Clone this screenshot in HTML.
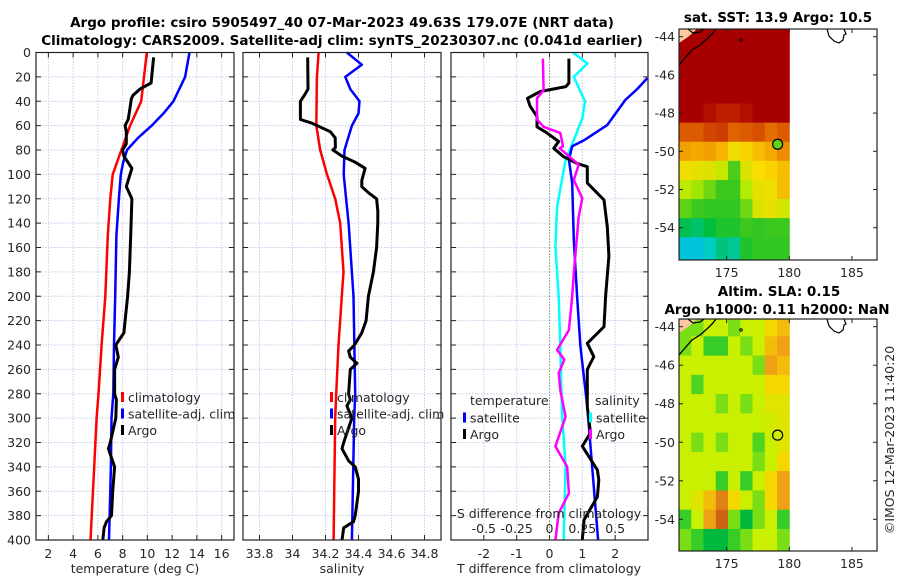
<!DOCTYPE html>
<html><head><meta charset="utf-8">
<style>
html,body{margin:0;padding:0;background:#fff;}
svg{display:block;font-family:"DejaVu Sans","Liberation Sans",sans-serif;}
.tk{font-size:12.5px;fill:#262626;}
.ttl{font-size:13.5px;font-weight:bold;fill:#000;}
</style></head>
<body>
<svg id="fig" width="900" height="580" viewBox="0 0 900 580" xmlns="http://www.w3.org/2000/svg">
<text class="ttl" x="342" y="27" text-anchor="middle">Argo profile: csiro 5905497_40 07-Mar-2023 49.63S 179.07E (NRT data)</text>
<text class="ttl" x="342" y="45" text-anchor="middle">Climatology: CARS2009. Satellite-adj clim: synTS_20230307.nc (0.041d earlier)</text>
<text class="ttl" x="778" y="22" text-anchor="middle">sat. SST: 13.9 Argo: 10.5</text>
<text class="ttl" x="779" y="296" text-anchor="middle">Altim. SLA: 0.15</text>
<text class="ttl" x="777" y="314" text-anchor="middle">Argo h1000: 0.11 h2000: NaN</text>
<text class="tk" transform="translate(894,440) rotate(-90)" text-anchor="middle">©IMOS 12-Mar-2023 11:40:20</text>
<g id="g"></g>
</svg>
<script>
// ---------- profile data ----------
const depthTclim=[0,40,60,80,100,120,150,200,240,280,300,340,400];
const tempClim=[9.95,9.5,8.6,7.9,7.2,7.0,6.8,6.6,6.3,6.05,5.9,5.7,5.4];
const depthTsat=[0,20,40,50,60,70,80,90,100,120,150,200,240,280,300,340,400];
const tempSat=[13.4,13.05,12.1,11.3,10.35,9.25,8.35,8.05,7.85,7.7,7.5,7.4,7.3,7.25,7.1,7.05,6.9];
const depthTargo=[4,25,30,35,38,45,55,60,65,75,80,85,95,110,120,150,180,200,220,230,240,250,260,280,285,300,320,325,340,360,380,385,390,400];
const tempArgo=[10.5,10.3,9.4,8.85,8.7,8.6,8.45,8.2,8.3,8.3,8.0,8.1,8.75,8.3,8.75,8.65,8.55,8.4,8.2,8.1,7.45,7.65,7.35,7.35,7.5,7.45,7.0,6.85,7.35,7.2,7.1,6.7,6.5,6.4];
const depthSclim=[0,20,60,80,100,120,140,180,200,240,280,300,400];
const salClim=[34.158,34.148,34.144,34.168,34.209,34.259,34.289,34.309,34.299,34.279,34.265,34.259,34.249];
const depthSsat=[0,10,20,30,40,50,60,80,100,120,140,200,280,300,400];
const salSat=[34.33,34.42,34.32,34.35,34.406,34.4,34.36,34.315,34.31,34.325,34.34,34.37,34.38,34.374,34.36];
const depthSargo=[4,30,35,40,55,58,65,70,78,80,85,90,95,105,110,115,120,130,140,160,180,200,220,230,240,245,250,255,260,280,285,290,300,320,325,335,340,350,360,380,385,390,400];
const salArgo=[34.092,34.094,34.072,34.048,34.048,34.118,34.229,34.259,34.26,34.245,34.3,34.38,34.44,34.42,34.42,34.46,34.51,34.517,34.517,34.51,34.49,34.46,34.446,34.42,34.376,34.34,34.35,34.39,34.35,34.34,34.35,34.33,34.36,34.31,34.3,34.34,34.38,34.4,34.4,34.38,34.37,34.31,34.3];
// differences (T in deg C, S in psu)
const depthDTsat=[21,30,39,59.5,72,77,88,107,154,200,241,290.6,400];
const dTsat=[2.98,2.67,2.31,1.76,1.05,0.69,0.59,0.69,0.74,0.84,0.94,1.15,1.48];
const depthDTargo=[5,25,28,32,37.6,44,52.6,61,66,73,78.6,85.5,91,93.7,107,121,143,167,200,225,238.6,249.6,260,290.6,312,323,342.6,350.7,364.5,383.6,400];
const dTargo=[0.59,0.59,0.5,-0.28,-0.67,-0.59,-0.38,-0.38,-0.08,0.28,0.13,0.43,0.84,1.15,1.15,1.66,1.76,1.81,1.71,1.66,1.15,1.35,1.15,1.15,1.25,1.0,1.46,1.5,1.46,1.05,1.0];
const depthDSsat=[0,9,20,40,54,72,88,126.5,159,200,241,296,340,400];
const dSsat=[0.18,0.2875,0.185,0.27,0.25,0.185,0.1225,0.0575,0.045,0.07,0.0825,0.095,0.1225,0.1075];
const depthDSargo=[5,31,37.6,55,61,66,77,78.6,92,104.6,119.6,134.7,181,200,227.7,244,252,263,277,299,323,340,361.6,378,400];
const dSargo=[-0.05,-0.045,-0.095,-0.095,-0.045,0.0825,0.1025,0.0775,0.2225,0.185,0.25,0.2225,0.185,0.1725,0.1475,0.0575,0.1125,0.07,0.0825,0.1225,0.045,0.135,0.1475,0.07,0.045];
const depthTicks=[0,20,40,60,80,100,120,140,160,180,200,220,240,260,280,300,320,340,360,380,400];
const tempTicks=[2,4,6,8,10,12,14,16];
const salTicks=[33.8,34,34.2,34.4,34.6,34.8];
const salTickLabels=["33.8","34","34.2","34.4","34.6","34.8"];
const dTTicks=[-2,-1,0,1,2];
const dSTickLabels=["-0.5","-0.25","0","0.25","0.5"];
const dSTicks=[-0.5,-0.25,0,0.25,0.5];
// ---------- map data ----------
const mapLats=[-44,-45,-46,-47,-48,-49,-50,-51,-52,-53,-54,-55];
const mapLatTicks=[-44,-46,-48,-50,-52,-54];
const mapLonTicks=[175,180,185];
const sst=[
[14,14,14,14,14,14,14,14,14],
[14,14,14,14,14,14,14,14,14],
[14,14,14,14,14,14,14,14,14],
[14,14,14,14,14,14,14,14,14],
[14,14,13.8,13.6,13.6,13.8,14,14,14],
[13,13,13.2,13.3,12.9,13,13.1,12.8,13],
[12.3,12.2,12.3,12.1,11.6,11.8,12,12.2,12.5],
[11.6,11.5,11.4,11.2,10.4,11.4,11.7,11.8,12],
[11.1,10.9,10.6,10.3,10.3,11,11.5,11.6,12],
[10.5,10.3,10.2,10.2,10.2,10.6,11.4,11.5,11.3],
[9.6,9.5,9.7,10,10,10.3,10.2,10.3,10.3],
[8.9,8.9,9.1,9.4,9.3,10,10.2,10.2,10.2]];
const sla=[
[0.05,0.05,0.1,0.1,0.05,0.1,0.1,0.2,0.25],
[0.05,0.1,0.0,0.0,0.1,0.05,0.1,0.25,0.3],
[0.1,0.1,0.1,0.1,0.1,0.1,0.05,0.3,0.25],
[0.1,0.02,0.1,0.1,0.1,0.1,0.1,0.2,0.2],
[0.1,0.1,0.1,0.05,0.1,0.05,0.1,0.15,0.15],
[0.1,0.1,0.1,0.1,0.1,0.1,0.1,0.12,0.15],
[0.1,0.05,0.1,0.05,0.1,0.1,0.02,0.1,0.15],
[0.1,0.1,0.1,0.1,0.1,0.1,0.05,0.1,0.2],
[0.1,0.1,0.1,0.0,0.1,0.0,0.1,0.2,0.3],
[0.1,0.15,0.25,0.35,0.2,0.1,0.05,0.2,0.3],
[0.0,0.1,0.3,0.4,0.05,-0.05,0.05,0.1,0.0],
[0.05,0,-0.05,-0.05,0.0,0.05,0.1,0.1,0.05]];
const argoLon=179.07, argoLat=-49.63;

const NS="http://www.w3.org/2000/svg";
const G=document.getElementById('g');
function mk(tag,attrs,parent){const e=document.createElementNS(NS,tag);for(const k in attrs)e.setAttribute(k,attrs[k]);(parent||G).appendChild(e);return e;}

const Y0=52.5,Y1=540;
function yD(d){return Y0+d/400*(Y1-Y0);}
function lin(d0,d1,r0,r1){return v=>r0+(v-d0)/(d1-d0)*(r1-r0);}
const P1={x0:36,x1:234},P2={x0:243,x1:441},P3={x0:451,x1:648};
const xT=lin(1,17,P1.x0,P1.x1), xS=lin(33.7,34.9,P2.x0,P2.x1), xDT=lin(-3,3,P3.x0,P3.x1);
const xDS=v=>xDT(v*4);

function panel(P,name,vTicks,xf){
  const g=mk('g',{});
  
  
  mk('rect',{x:P.x0,y:Y0,width:P.x1-P.x0,height:Y1-Y0,fill:'#fff'},g);
  depthTicks.forEach(d=>{const l=mk('line',{x1:P.x0,x2:P.x1,y1:yD(d),y2:yD(d),stroke:'#c5cbe6','stroke-width':1,'stroke-dasharray':'1.5,1.5'},g);
    
    mk('line',{x1:P.x0,x2:P.x0+5,y1:yD(d),y2:yD(d),stroke:'#222'},g);mk('line',{x1:P.x1-5,x2:P.x1,y1:yD(d),y2:yD(d),stroke:'#222'},g);});
  vTicks.forEach(v=>{const x=xf(v);const l=mk('line',{x1:x,x2:x,y1:Y0,y2:Y1,stroke:'#c5cbe6','stroke-width':1,'stroke-dasharray':'1.5,1.5'},g);
    
    mk('line',{x1:x,x2:x,y1:Y1,y2:Y1-5,stroke:'#222'},g);mk('line',{x1:x,x2:x,y1:Y0,y2:Y0+5,stroke:'#222'},g);});
  return g;
}
function series(ds,vs,xf,color,w,name,par){
  const p=mk('polyline',{points:ds.map((d,i)=>xf(vs[i]).toFixed(1)+','+yD(d).toFixed(1)).join(' '),fill:'none',stroke:color,'stroke-width':w,'stroke-linejoin':'round'},par);
  
  
}
function frame(P,par){mk('rect',{x:P.x0,y:Y0,width:P.x1-P.x0,height:Y1-Y0,fill:'none',stroke:'#222','stroke-width':1.2},par);}
function text(x,y,s,name,anchor,par,extra){const t=mk('text',Object.assign({x:x,y:y,'class':'tk','text-anchor':anchor||'start'},extra||{}),par);t.textContent=s;
  return t;}
function legend(x,y,items,par){items.forEach((it,i)=>{mk('rect',{x:x,y:y+i*16.5-9,width:3,height:10,fill:it[1]},par);
  text(x+7,y+i*16.5+1,it[0],'legend-entry','start',par);});}

// Panel 1
const g1=panel(P1,'temperature-panel',tempTicks,xT);
series(depthTclim,tempClim,xT,'#ff0000',2.5,'temp-climatology-line',g1);
series(depthTsat,tempSat,xT,'#0000ff',2.5,'temp-satellite-line',g1);
series(depthTargo,tempArgo,xT,'#000',3,'temp-argo-line',g1);
frame(P1,g1);
depthTicks.forEach(d=>text(31,yD(d)+4.5,String(d),'y-tick-label','end',g1));
tempTicks.forEach(v=>text(xT(v),558,String(v),'x-tick-label','middle',g1));
text(135,573,'temperature (deg C)','x-axis-title','middle',g1);
legend(121,401,[['climatology','#ff0000'],['satellite-adj. clim','#0000ff'],['Argo','#000']],g1);

// Panel 2
const g2=panel(P2,'salinity-panel',salTicks,xS);
series(depthSclim,salClim,xS,'#ff0000',2.5,'sal-climatology-line',g2);
series(depthSsat,salSat,xS,'#0000ff',2.5,'sal-satellite-line',g2);
series(depthSargo,salArgo,xS,'#000',3,'sal-argo-line',g2);
frame(P2,g2);
salTicks.forEach((v,i)=>text(xS(v),558,salTickLabels[i],'x-tick-label','middle',g2));
text(342,573,'salinity','x-axis-title','middle',g2);
legend(330,401,[['climatology','#ff0000'],['satellite-adj. clim','#0000ff'],['Argo','#000']],g2);

// Panel 3
const g3=panel(P3,'difference-panel',dTTicks,xDT);
mk('line',{x1:xDT(0),x2:xDT(0),y1:Y0,y2:Y1,stroke:'#556b2f','stroke-width':1,'stroke-dasharray':'1,2'},g3);
series(depthDSsat,dSsat,xDS,'#00ffff',2.5,'sal-diff-satellite-line',g3);
series(depthDTsat,dTsat,xDT,'#0000ff',2.5,'temp-diff-satellite-line',g3);
series(depthDTargo,dTargo,xDT,'#000',3,'temp-diff-argo-line',g3);
series(depthDSargo,dSargo,xDS,'#ff00ff',2.5,'sal-diff-argo-line',g3);
frame(P3,g3);
dTTicks.forEach(v=>text(xDT(v),558,String(v),'x-tick-label','middle',g3));
text(549,573,'T difference from climatology','x-axis-title','middle',g3);
text(549,518,'S difference from climatology','s-axis-title','middle',g3);
dSTicks.forEach((v,i)=>text(xDS(v),533,dSTickLabels[i],'s-tick-label','middle',g3));
text(470,405,'temperature','legend-title','start',g3);
text(595,405,'salinity','legend-title','start',g3);
legend(463,421.5,[['satellite','#0000ff'],['Argo','#000']],g3);
legend(589,421.5,[['satellite','#00ffff'],['Argo','#ff00ff']],g3);

// ---------- maps ----------
function toRgb(c){return 'rgb('+c.map(v=>Math.round(v)).join(',')+')';}
function interp(stops,v){if(v<=stops[0][0])return toRgb(stops[0][1]);for(let i=1;i<stops.length;i++){if(v<=stops[i][0]){const t=(v-stops[i-1][0])/(stops[i][0]-stops[i-1][0]);const a=stops[i-1][1],b=stops[i][1];return toRgb(a.map((c,k)=>c+(b[k]-c)*t));}}return toRgb(stops[stops.length-1][1]);}
const sstStops=[[8.5,[0,150,230]],[9,[0,205,215]],[9.7,[0,190,60]],[10.3,[60,200,30]],[11,[180,235,0]],[11.7,[250,220,0]],[12.4,[240,150,0]],[13,[220,90,0]],[13.6,[190,30,0]],[14,[168,0,0]]];
const slaStops=[[-0.05,[0,185,60]],[0.03,[90,215,30]],[0.1,[200,240,0]],[0.2,[245,215,0]],[0.3,[240,160,20]],[0.4,[205,100,20]]];
function drawMap(M,name,grid,stops,markerVal){
  const g=mk('g',{});
  const xL=lin(171.2,187,M.x0,M.x1), yL=v=>M.yRef+(-44-v)*M.ppd;
  const cid='clip'+name;const cp=mk('clipPath',{id:cid},g);mk('rect',{x:M.x0,y:M.y0,width:M.x1-M.x0,height:M.y1-M.y0},cp);
  const cg=mk('g',{'clip-path':'url(#'+cid+')'},g);
  const nC=grid[0].length, cw=(180-171.2)/nC;
  grid.forEach((row,r)=>{row.forEach((v,c)=>{const lon0=171.2+c*cw;const top=yL(mapLats[r]+0.5);const bot=yL(mapLats[r]-(r===grid.length-1?0.8:0.5));
    const cell=mk('rect',{x:xL(lon0),y:top,width:xL(lon0+cw)-xL(lon0)+0.5,height:bot-top+0.5,fill:interp(stops,v)},cg);
    });});
  const o=M.y0;
  mk('path',{d:`M679,${o} L697,${o} L688,${o+8} L679,${o+14} Z`,fill:'#fdc9a0'},cg);
  const coast=mk('polyline',{points:`679,${o+36} 685,${o+29} 692,${o+21} 700,${o+16} 708,${o+9} 713,${o+4} 716,${o}`,fill:'none',stroke:'#000','stroke-width':1.3},cg);
  
  mk('path',{d:`M688,${o} L693,${o+4} L700,${o+3} L704,${o}`,fill:'none',stroke:'#000','stroke-width':1.2},cg);
  mk('circle',{cx:741,cy:o+11,r:1.3,fill:'none',stroke:'#000'},cg);
  mk('path',{d:`M827,${o} L829,${o+7} L834,${o+12} L839,${o+14} L843,${o+11} L844,${o+6} L846,${o+5} L844,${o}`,fill:'#fff',stroke:'#000','stroke-width':1.2},cg);
  const mkr=mk('circle',{cx:xL(argoLon),cy:yL(argoLat),r:5,fill:interp(stops,markerVal),stroke:'#000','stroke-width':1.2},g);
  
  mk('rect',{x:M.x0,y:M.y0,width:M.x1-M.x0,height:M.y1-M.y0,fill:'none',stroke:'#222','stroke-width':1.2},g);
  mapLatTicks.forEach(v=>{const y=yL(v);mk('line',{x1:M.x0,x2:M.x0+4,y1:y,y2:y,stroke:'#222'},g);mk('line',{x1:M.x1-4,x2:M.x1,y1:y,y2:y,stroke:'#222'},g);
    text(M.x0-4,y+4.5,String(v),'map-lat-label','end',g);});
  mapLonTicks.forEach(v=>{const x=xL(v);mk('line',{x1:x,x2:x,y1:M.y1,y2:M.y1-4,stroke:'#222'},g);mk('line',{x1:x,x2:x,y1:M.y0,y2:M.y0+4,stroke:'#222'},g);
    text(x,M.y1+17,String(v),'map-lon-label','middle',g);});
}
drawMap({x0:679,x1:877,y0:29,y1:260,yRef:36.7,ppd:19.1},'sst-map',sst,sstStops,10.5);
drawMap({x0:679,x1:877,y0:319,y1:551,yRef:326.7,ppd:19.26},'sla-map',sla,slaStops,0.11);
</script>
</body></html>
